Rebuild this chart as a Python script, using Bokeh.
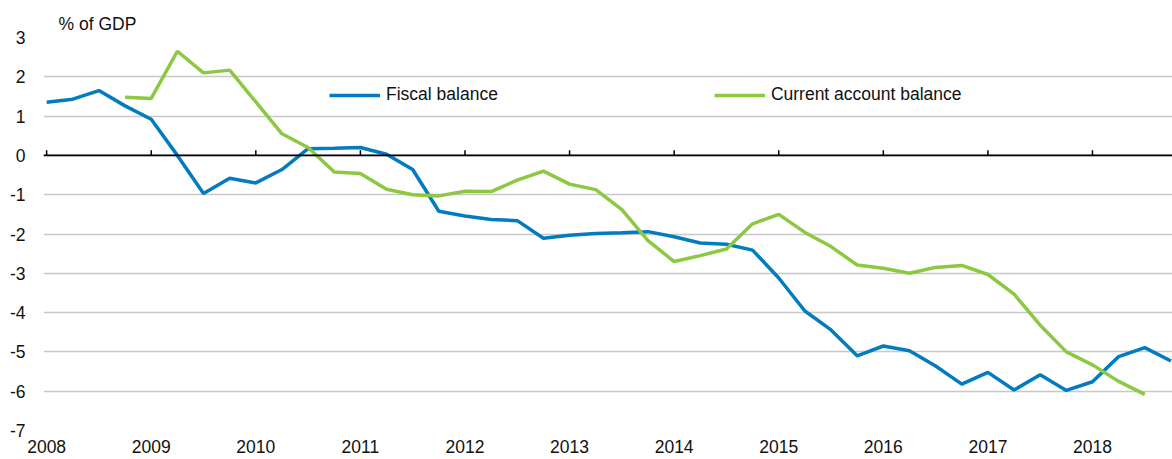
import numpy as np
from bokeh.plotting import figure
from bokeh.models import (Range1d, FixedTicker, Legend, LegendItem, Span)
from bokeh.embed import file_html
from bokeh.resources import INLINE

# ---------------- data ----------------
start_year = 2008
n_quarters = 44  # 2008Q1 .. 2018Q4
years = list(range(2008, 2019))
year_labels = [str(y) for y in years]
y_ticks = [3, 2, 1, 0, -1, -2, -3, -4, -5, -6, -7]
y_labels = ["3", "2", "1", "0", "-1", "-2", "-3", "-4", "-5", "-6", "-7"]

fiscal_balance = [
    1.35, 1.43, 1.65, 1.26,
    0.92, 0.00, -0.97, -0.58,
    -0.70, -0.36, 0.17, 0.18,
    0.20, 0.03, -0.36, -1.42,
    -1.54, -1.63, -1.66, -2.11,
    -2.03, -1.99, -1.97, -1.94,
    -2.07, -2.23, -2.26, -2.41,
    -3.12, -3.96, -4.44, -5.10,
    -4.85, -4.97, -5.36, -5.82,
    -5.52, -5.97, -5.58, -5.98,
    -5.76, -5.12, -4.89, -5.23,
]
current_account = [
    None, None, None, 1.48,
    1.45, 2.65, 2.10, 2.17,
    1.36, 0.55, 0.20, -0.42,
    -0.46, -0.86, -1.00, -1.03,
    -0.91, -0.92, -0.63, -0.40,
    -0.73, -0.87, -1.38, -2.17,
    -2.70, -2.55, -2.38, -1.74,
    -1.50, -1.96, -2.32, -2.79,
    -2.87, -3.00, -2.85, -2.80,
    -3.03, -3.53, -4.32, -5.00,
    -5.33, -5.75, -6.08, None,
]

x = [start_year + i / 4 for i in range(n_quarters)]
fb = np.array(fiscal_balance, dtype=float)
ca = np.array([np.nan if v is None else v for v in current_account], dtype=float)

BLUE = "#037bc1"
GREEN = "#8cc841"
FONT = "Liberation Sans"
FS = "17.5px"
TXT = "#111111"

p = figure(width=1172, height=459, output_backend="svg", toolbar_location=None,
           x_range=Range1d(2007.97, 2018.765), y_range=Range1d(-7, 3),
           min_border_left=43, min_border_right=0, min_border_top=37,
           min_border_bottom=29, title="% of GDP")
p.outline_line_color = None
p.background_fill_color = "white"
p.border_fill_color = "white"

p.title.text_font = FONT
p.title.text_font_size = FS
p.title.text_font_style = "normal"
p.title.text_color = TXT
p.title.align = "left"
p.title.offset = 15
p.title.standoff = 7

# axes
p.xaxis.ticker = FixedTicker(ticks=years)
p.xaxis.major_label_overrides = {y: l for y, l in zip(years, year_labels)}
p.yaxis.ticker = FixedTicker(ticks=y_ticks)
p.yaxis.major_label_overrides = {t: l for t, l in zip(y_ticks, y_labels)}
for ax in (p.xaxis[0], p.yaxis[0]):
    ax.axis_line_color = None
    ax.major_tick_line_color = None
    ax.minor_tick_line_color = None
    ax.major_tick_in = 0
    ax.major_tick_out = 0
    ax.major_label_text_font = FONT
    ax.major_label_text_font_size = FS
    ax.major_label_text_color = TXT
p.yaxis.major_label_standoff = 18
p.xaxis.major_label_standoff = 9

p.xgrid.grid_line_color = None
p.ygrid.grid_line_color = "#c8c8c8"
p.ygrid.grid_line_width = 1.5

# zero line with year ticks
p.add_layout(Span(location=0, dimension="width", line_color="black", line_width=1.6))
p.segment(x0=years, y0=[0] * len(years), x1=years, y1=[0.13] * len(years),
          line_color="black", line_width=1.5)

r_fb = p.line(x, fb, line_color=BLUE, line_width=3.5)
r_ca = p.line(x, ca, line_color=GREEN, line_width=3.5)

legend = Legend(items=[LegendItem(label="Fiscal balance", renderers=[r_fb]),
                       LegendItem(label="Current account balance", renderers=[r_ca])],
                orientation="horizontal", location=(286, 325),
                spacing=216, padding=0, margin=0, glyph_width=51, glyph_height=20,
                label_standoff=6, label_height=20,
                label_text_font=FONT, label_text_font_size=FS,
                label_text_color=TXT,
                border_line_color=None, background_fill_alpha=0)
p.add_layout(legend)

open("out.html", "w").write(file_html(p, INLINE))
